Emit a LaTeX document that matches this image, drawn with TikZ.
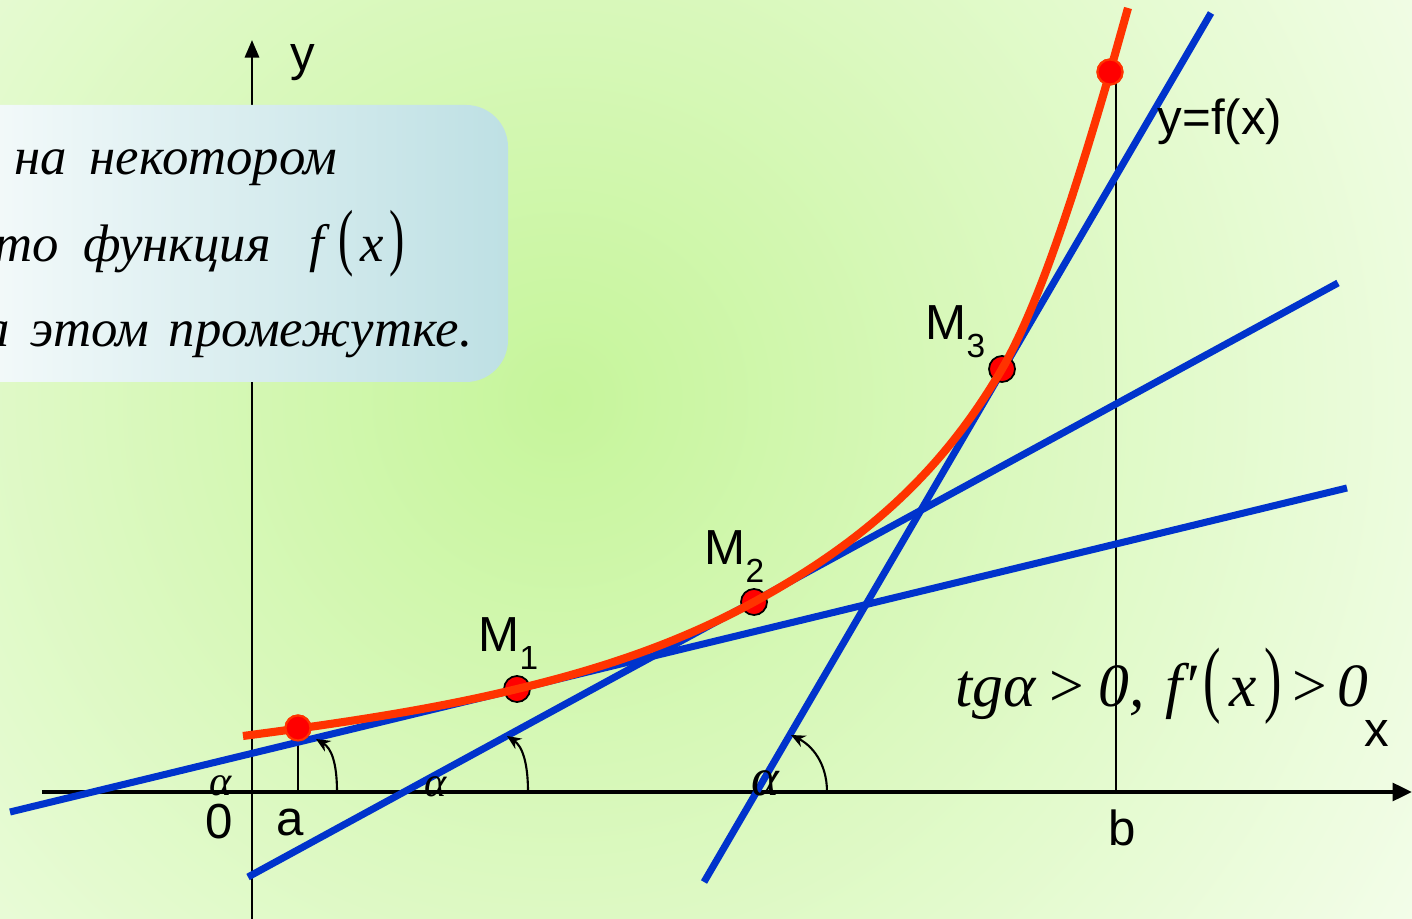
\documentclass[tikz,border=0pt]{standalone}
\usepackage{fontspec}
\setmainfont{Liberation Serif}
\newfontfamily\sansf{Liberation Sans}
\usetikzlibrary{arrows.meta}
\definecolor{bgin}{RGB}{198,245,155}
\definecolor{bgout}{RGB}{243,253,233}
\definecolor{tanblue}{RGB}{0,51,204}
\definecolor{curvered}{RGB}{255,51,0}
\definecolor{dotred}{RGB}{255,0,0}
\definecolor{boxl}{RGB}{248,252,252}
\definecolor{boxr}{RGB}{190,224,228}
\tikzset{
  tangent/.style={draw=tanblue, line width=2pt},
  curve/.style={draw=curvered, line width=2.3pt},
  axis/.style={draw=black, line width=1.1pt},
  guide/.style={draw=black, line width=0.6pt},
  angarrow/.style={draw=black, line width=0.6pt, -{Stealth[length=4pt,width=3.5pt]}},
  mdot/.style={circle, fill=dotred, draw=black, line width=0.5pt, minimum size=0.26cm, inner sep=0pt},
  edot/.style={circle, fill=dotred, draw=curvered, line width=0.6pt, minimum size=0.25cm, inner sep=0pt},
  lbl/.style={font=\sansf\fontsize{14}{14}\selectfont, inner sep=0pt},
  boxtxt/.style={font=\itshape\fontsize{15}{15}\selectfont, inner sep=0pt, anchor=base east},
  alph/.style={font=\itshape\fontsize{12}{12}\selectfont, inner sep=0pt},
}
\newcommand{\bigpar}[2]{\scalebox{0.62}[1]{\upshape\fontsize{#1}{#1}\selectfont #2}}
\newcommand{\ws}{\hspace{7pt}}
\begin{document}
\begin{tikzpicture}[x=0.01cm,y=-0.01cm]
\useasboundingbox (0,0) rectangle (1412,919);
\clip (0,0) rectangle (1412,919);
% background
\shade[inner color=bgin, outer color=bgout] (560,400) circle (10cm);
% axes
\coordinate (xs) at (42,792);
\coordinate (xe) at (1412,792);
\coordinate (ys) at (252,919);
\coordinate (ye) at (252,40);
\draw[axis, -{Triangle[length=5.5pt,width=5pt]}] (xs) -- (xe);
\draw[axis, line width=0.85pt, -{Triangle[length=5pt,width=4pt]}] (ys) -- (ye);
% guide lines
\coordinate (ga) at (298,792);
\coordinate (gb) at (1116,792);
\coordinate (gbt) at (1116,78);
\node[edot] (A) at (298,728) {};
\node[edot] (B) at (1110,72) {};
\draw[guide] (ga) -- (A.center);
\draw[guide] (gb) -- (gbt);
% text box
\shade[left color=boxl, right color=boxr, rounded corners=0.42cm] (-60,105) rectangle (508,382);
\node[boxtxt] (l1) at (338,175) {0\hspace{6pt}на\hspace{6.5pt}некотором};
\node[boxtxt] (l2) at (405,262) {то\ws функция\ws\hspace{4pt}f\hspace{4pt}\bigpar{21}{(}\hspace{2pt}x\hspace{1.5pt}\bigpar{21}{)}};
\node[boxtxt] (l3) at (473,347) {а\hspace{6pt}этом\hspace{5.5pt}промежутке.};
% tangents
\coordinate (t1a) at (10,812);
\coordinate (t1b) at (1347,488);
\coordinate (t2a) at (248,877);
\coordinate (t2b) at (1338,283);
\coordinate (t3a) at (704,882);
\coordinate (t3b) at (1211,13);
\draw[tangent] (t1a) -- (t1b);
\draw[tangent] (t2a) -- (t2b);
\draw[tangent] (t3a) -- (t3b);
% points on curve
\node[mdot] (M1) at (517,689) {};
\node[mdot] (M2) at (754,602) {};
\node[mdot] (M3) at (1002,369) {};
% curve
\coordinate (c0) at (243,736);
\coordinate (c9) at (1128,8);
\draw[curve] (c0) .. controls (334,724) and (426,711) .. (M1.center)
  .. controls (596,670) and (675,645) .. (M2.center)
  .. controls (864,542) and (942,472) .. (M3.center)
  .. controls (1038,307) and (1074,196) .. (B.center) -- (c9);
\node[edot] at (A.center) {};
\node[edot] at (B.center) {};
% angle arrows
\draw[angarrow] (337,792) .. controls (337,762) and (331,748) .. (316,739);
\draw[angarrow] (528,792) .. controls (528,762) and (522,746) .. (507,736);
\draw[angarrow] (827,792) .. controls (827,762) and (811,745) .. (791,735);
% alpha labels
\node[alph, anchor=base] (al1) at (221,795) {α};
\node[alph, anchor=base] (al2) at (436,797) {α};
\node[alph, font=\itshape\fontsize{15}{15}\selectfont, anchor=base] (al3) at (765,795) {α};
% axis labels
\node[lbl, anchor=base] (ly) at (303,71) {y};
\node[lbl, anchor=base] (lx) at (1377,747) {x};
\node[lbl, anchor=base] (l0) at (219,838) {0};
\node[lbl, anchor=base] (la) at (290,835) {a};
\node[lbl, anchor=base] (lb) at (1122,846) {b};
\node[lbl, anchor=base west] (lf) at (1157,135) {y=f(x)};
\node[lbl, anchor=base west] (m1) at (478,652) {M\raisebox{-5pt}{\fontsize{9.5}{9.5}\selectfont 1}};
\node[lbl, anchor=base west] (m2) at (704,565) {M\raisebox{-5pt}{\fontsize{9.5}{9.5}\selectfont 2}};
\node[lbl, anchor=base west] (m3) at (925,340) {M\raisebox{-5pt}{\fontsize{9.5}{9.5}\selectfont 3}};
% condition
\node[anchor=base west, inner sep=0pt, font=\itshape\fontsize{17.5}{17.5}\selectfont] (tg) at (955,707)
  {tgα\hspace{4pt}\upshape{>}\hspace{4pt}\itshape 0,\hspace{6pt}f′\hspace{2pt}\bigpar{24}{(}\hspace{2.5pt}x\hspace{2pt}\bigpar{24}{)}\hspace{3pt}\upshape{>}\hspace{3pt}\itshape 0};
\end{tikzpicture}
\end{document}
